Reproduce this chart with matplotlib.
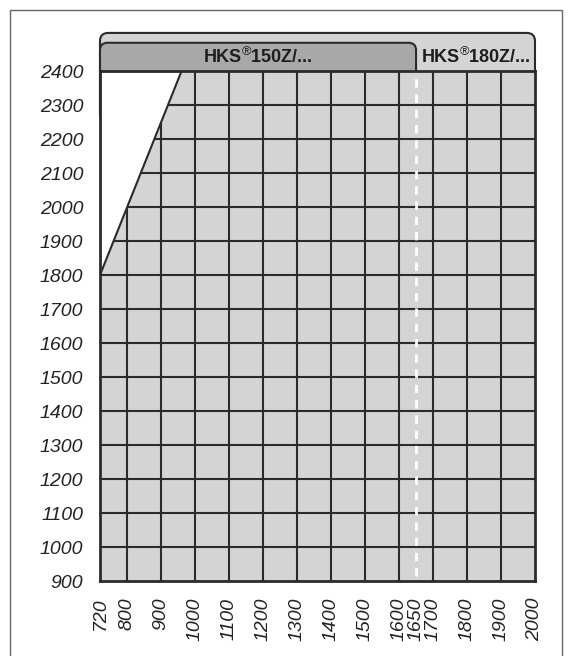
import matplotlib
matplotlib.use("Agg")
import matplotlib.pyplot as plt
from matplotlib.patches import Rectangle, Polygon, FancyBboxPatch

plt.rcParams['font.family'] = ['Liberation Sans', 'DejaVu Sans']
plt.rcParams['mathtext.fontset'] = 'custom'
plt.rcParams['mathtext.rm'] = 'Liberation Sans'
plt.rcParams['mathtext.bf'] = 'Liberation Sans:bold'

# Data
x_ticks = [720, 800, 900, 1000, 1100, 1200, 1300, 1400, 1500, 1600, 1650, 1700, 1800, 1900, 2000]
y_ticks = [900, 1000, 1100, 1200, 1300, 1400, 1500, 1600, 1700, 1800, 1900, 2000, 2100, 2200, 2300, 2400]
grid_x = [800, 900, 1000, 1100, 1200, 1300, 1400, 1500, 1600, 1700, 1800, 1900]
grid_y = [1000, 1100, 1200, 1300, 1400, 1500, 1600, 1700, 1800, 1900, 2000, 2100, 2200, 2300]
limit_x = [720, 960]      # boundary line of the usable range
limit_y = [1800, 2400]
split_x = 1650            # HKS 150Z / 180Z boundary
series_labels = ["HKS$^{®}$150Z/...", "HKS$^{®}$180Z/..."]

xmin, xmax = 720, 2000
ymin, ymax = 900, 2400

W, H = 571, 656
fig = plt.figure(figsize=(W / 100, H / 100), dpi=100)
ax = fig.add_axes([100 / W, (H - 581) / H, 435 / W, 510 / H])
ax.set_xlim(xmin, xmax)
ax.set_ylim(ymin, ymax)

gray = '#d4d4d4'
tabgray = '#a8a8a8'
edge = '#2b2b2b'

# Figure frame
fig.patches.append(Rectangle((10 / W, -0.05), 552 / W, (H - 10) / H + 0.05,
                             transform=fig.transFigure, fill=False,
                             edgecolor='#666666', linewidth=1.0))

# Header boxes (extend below the plot top; covered by plot fills)
outer = FancyBboxPatch((xmin, 2250), xmax - xmin, 2512 - 2250,
                       boxstyle="round,pad=0,rounding_size=24",
                       facecolor=gray, edgecolor=edge, linewidth=1.5,
                       clip_on=False, zorder=0.5)
ax.add_patch(outer)
tab = FancyBboxPatch((xmin, 2250), split_x - xmin, 2483 - 2250,
                     boxstyle="round,pad=0,rounding_size=22",
                     facecolor=tabgray, edgecolor=edge, linewidth=1.5,
                     clip_on=False, zorder=0.6)
ax.add_patch(tab)

ax.text((xmin + split_x) / 2, 2442, series_labels[0], ha='center', va='center',
        fontsize=13, fontweight='bold', color='#1e1e1e', clip_on=False, zorder=5)
ax.text((split_x + xmax) / 2, 2442, series_labels[1], ha='center', va='center',
        fontsize=13, fontweight='bold', color='#1e1e1e', clip_on=False, zorder=5)

# Plot fill
ax.add_patch(Rectangle((xmin, ymin), xmax - xmin, ymax - ymin, facecolor=gray,
                       edgecolor='none', zorder=1))

for gx in grid_x:
    ax.plot([gx, gx], [ymin, ymax], color=edge, linewidth=1.5, zorder=2)
for gy in grid_y:
    ax.plot([xmin, xmax], [gy, gy], color=edge, linewidth=1.5, zorder=2)

# White (not usable) region
ax.add_patch(Polygon([(limit_x[0], limit_y[0]), (limit_x[1], limit_y[1]),
                      (xmin, ymax)], closed=True, facecolor='white',
                     edgecolor='none', zorder=3))
ax.plot(limit_x, limit_y, color=edge, linewidth=1.5, zorder=4)

# Dashed split line
ax.plot([split_x, split_x], [ymin + 15, ymax], color='white', linewidth=2,
        linestyle=(0, (3, 2.5)), zorder=4)

ax.set_xticks(x_ticks)
ax.set_xticklabels([str(v) for v in x_ticks], rotation=90, fontstyle='italic',
                   fontsize=14, color='#222222')
ax.set_yticks(y_ticks)
ax.set_yticklabels([str(v) for v in y_ticks], fontstyle='italic', fontsize=14,
                   color='#222222')
ax.tick_params(axis='both', length=0)
ax.tick_params(axis='y', pad=12)
ax.tick_params(axis='x', pad=12)

for s in ax.spines.values():
    s.set_linewidth(2)
    s.set_color(edge)
    s.set_zorder(6)

fig.savefig('out.png', dpi=100)
